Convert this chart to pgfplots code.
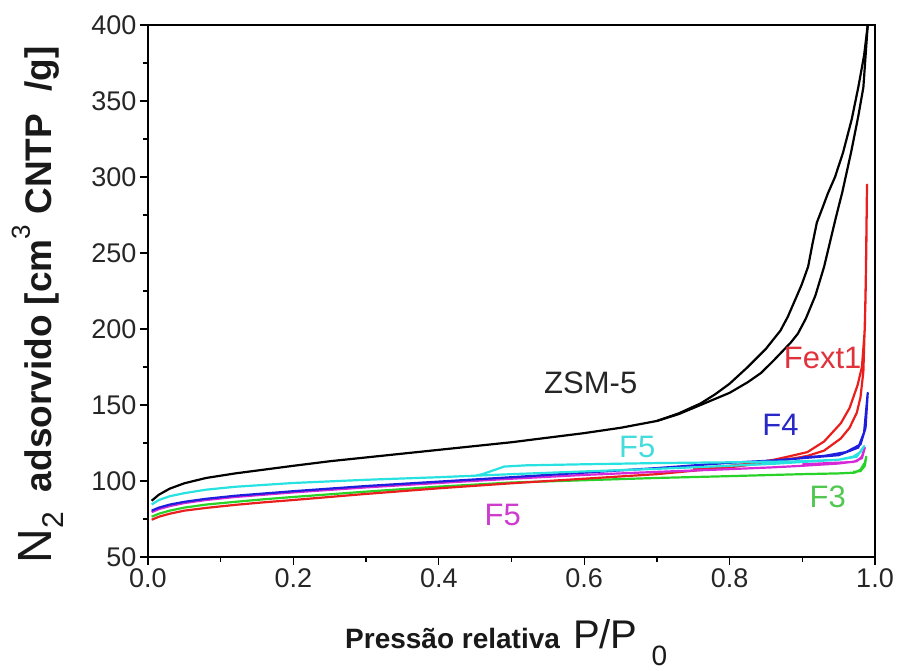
\documentclass[border=0pt]{standalone}
\usepackage{fontspec}
\setmainfont{Liberation Sans}
\usepackage{pgfplots}
\pgfplotsset{compat=1.18}
\definecolor{cRed}{RGB}{235,30,30}
\definecolor{cBlue}{RGB}{30,30,220}
\definecolor{cCyan}{RGB}{40,225,225}
\definecolor{cMag}{RGB}{215,40,215}
\definecolor{cGreen}{RGB}{40,210,40}
\definecolor{tRed}{RGB}{225,50,60}
\definecolor{tBlue}{RGB}{40,40,200}
\definecolor{tCyan}{RGB}{70,220,220}
\definecolor{tMag}{RGB}{205,60,205}
\definecolor{tGreen}{RGB}{80,200,80}
\begin{document}
\begin{tikzpicture}
\begin{axis}[
  scale only axis, width=727bp, height=532bp,
  xmin=0, xmax=1, ymin=50, ymax=400,
  clip mode=individual,
  xtick={0,0.2,0.4,0.6,0.8,1.0},
  xticklabels={0.0,0.2,0.4,0.6,0.8,1.0},
  ytick={50,100,...,400},
  minor x tick num=1, minor y tick num=1,
  xtick pos=bottom, ytick pos=left, tick align=outside,
  major tick length=8bp, minor tick length=5bp,
  every tick/.style={line width=1.3bp, black},
  axis line style={line width=1.5bp},
  ticklabel style={font=\fontsize{27bp}{30bp}\selectfont, text=black!85},
  /pgf/number format/assume math mode=true,
  every axis plot/.append style={line width=2.2bp, line join=round},
]
\coordinate (O) at (rel axis cs:0,0);
% F3 green
\addplot[cGreen] coordinates {(0.005,76.5)(0.015,78.5)(0.03,80.5)(0.05,82.5)(0.08,84.5)(0.12,86.3)(0.16,88)(0.2,89.5)(0.3,93)(0.4,96.3)(0.5,99)(0.6,100.5)(0.7,102)(0.8,103.2)(0.86,104)(0.9,104.5)(0.95,105)(0.972,105.5)(0.98,107.5)(0.986,112)(0.988,116)(0.986,110)(0.98,106.5)(0.97,106)};
% Fext1 red
\addplot[cRed] coordinates {(0.005,74.5)(0.015,76.5)(0.03,78.5)(0.05,80.5)(0.08,82.3)(0.12,84.3)(0.16,86)(0.2,87.5)(0.3,91.5)(0.4,95.2)(0.5,98.5)(0.6,101.5)(0.7,104.5)(0.8,109)(0.86,112.5)(0.907,116.5)(0.93,120)(0.953,128)(0.965,135)(0.975,145)(0.98,155)(0.984,172)(0.987,220)(0.989,295)(0.988,250)(0.986,200)(0.982,175)(0.976,163)(0.965,148)(0.953,138)(0.93,126)(0.907,119)(0.88,116)(0.861,114)(0.83,111.5)(0.8,110)(0.75,108)};
% F5 magenta
\addplot[cMag] coordinates {(0.005,79.5)(0.015,81.5)(0.03,83.5)(0.05,85.5)(0.08,87.5)(0.12,89.5)(0.2,92.5)(0.3,95.8)(0.4,98.7)(0.5,101.5)(0.6,104)(0.7,106)(0.8,107.8)(0.86,109)(0.9,110)(0.95,111.5)(0.975,113)(0.982,116)(0.986,122)(0.982,115)(0.97,112.5)(0.9,111)};
% F4 blue
\addplot[cBlue] coordinates {(0.005,80.5)(0.015,82.5)(0.03,84.5)(0.05,86.3)(0.08,88.3)(0.12,90.3)(0.2,93.3)(0.3,96.7)(0.4,99.6)(0.5,102.5)(0.6,105.5)(0.7,108.5)(0.8,112)(0.86,113.5)(0.9,115)(0.95,117)(0.977,122)(0.985,132)(0.99,158)(0.987,135)(0.98,124)(0.96,119)(0.93,116.5)(0.9,115.5)};
% F5 cyan
\addplot[cCyan] coordinates {(0.005,84.5)(0.015,87.5)(0.03,90)(0.05,92)(0.08,94.3)(0.12,96.2)(0.2,98.7)(0.3,100.8)(0.4,102.5)(0.45,103.5)(0.5,104.5)(0.6,106.3)(0.7,108)(0.8,110)(0.86,111.3)(0.9,112.5)(0.95,114)(0.97,116)(0.98,119)(0.985,123)(0.975,116)(0.95,114)(0.9,113)(0.8,112.3)(0.7,111.8)(0.6,111)(0.52,110.3)(0.49,109.5)(0.475,107)(0.46,104.5)(0.45,103.5)};
% ZSM-5 black adsorption
\addplot[black] coordinates {(0.005,87)(0.015,91)(0.03,95)(0.05,98.5)(0.08,102)(0.12,105)(0.16,107.5)(0.2,110)(0.25,113)(0.3,115.5)(0.35,118)(0.4,120.5)(0.45,123)(0.5,125.5)(0.55,128.5)(0.6,131.5)(0.65,135)(0.7,139.5)(0.73,144)(0.76,150)(0.8,158)(0.825,165)(0.843,171)(0.86,179)(0.872,185)(0.884,191)(0.894,197)(0.905,207)(0.918,222)(0.93,241)(0.938,257)(0.946,273)(0.955,290)(0.967,316)(0.977,340)(0.984,359)(0.99,400)};
% ZSM-5 black desorption
\addplot[black] coordinates {(0.99,400)(0.985,380)(0.977,359)(0.968,338)(0.956,316)(0.945,300)(0.935,289)(0.928,280)(0.92,270)(0.914,256)(0.908,241)(0.899,229)(0.89,219)(0.88,208)(0.87,199)(0.86,193)(0.85,187)(0.825,175)(0.8,164)(0.78,157)(0.76,151)(0.73,144.5)(0.7,139.5)};
% labels
\node[font=\fontsize{31bp}{34bp}\selectfont, text=black!85] at (axis cs:0.609,164.5) {ZSM-5};
\node[font=\fontsize{31bp}{34bp}\selectfont, text=tRed] at (axis cs:0.928,181) {Fext1};
\node[font=\fontsize{31bp}{34bp}\selectfont, text=tBlue] at (axis cs:0.870,136.8) {F4};
\node[font=\fontsize{31bp}{34bp}\selectfont, text=tCyan] at (axis cs:0.673,122.4) {F5};
\node[font=\fontsize{31bp}{34bp}\selectfont, text=tMag] at (axis cs:0.488,77.6) {F5};
\node[font=\fontsize{31bp}{34bp}\selectfont, text=tGreen] at (axis cs:0.935,89.5) {F3};
% axis titles
\node[anchor=base, xshift=-96bp, rotate=90, text=black!90, inner sep=0pt] at (rel axis cs:0,0.474)
  {{\fontsize{48bp}{48bp}\selectfont N\raisebox{-0.25em}{\fontsize{30bp}{30bp}\selectfont 2}}\hspace{20bp}{\fontsize{37bp}{40bp}\selectfont\bfseries adsorvido [cm\raisebox{0.6em}{\fontsize{26bp}{26bp}\selectfont\mdseries 3} CNTP\hspace{12bp} /g]}};
\node[anchor=base west, yshift=-91bp, text=black!90, inner sep=0pt] at (rel axis cs:0.271,0)
  {{\fontsize{28bp}{30bp}\selectfont\bfseries Pressão relativa}\hspace{13bp}{\fontsize{40bp}{40bp}\selectfont P/P}\hspace{14bp}\raisebox{-17bp}{\fontsize{28bp}{28bp}\selectfont 0}};
\end{axis}
\pgfresetboundingbox
\path (O) ++(-148bp,-114bp) rectangle ++(900bp,671bp);
\end{tikzpicture}
\end{document}
